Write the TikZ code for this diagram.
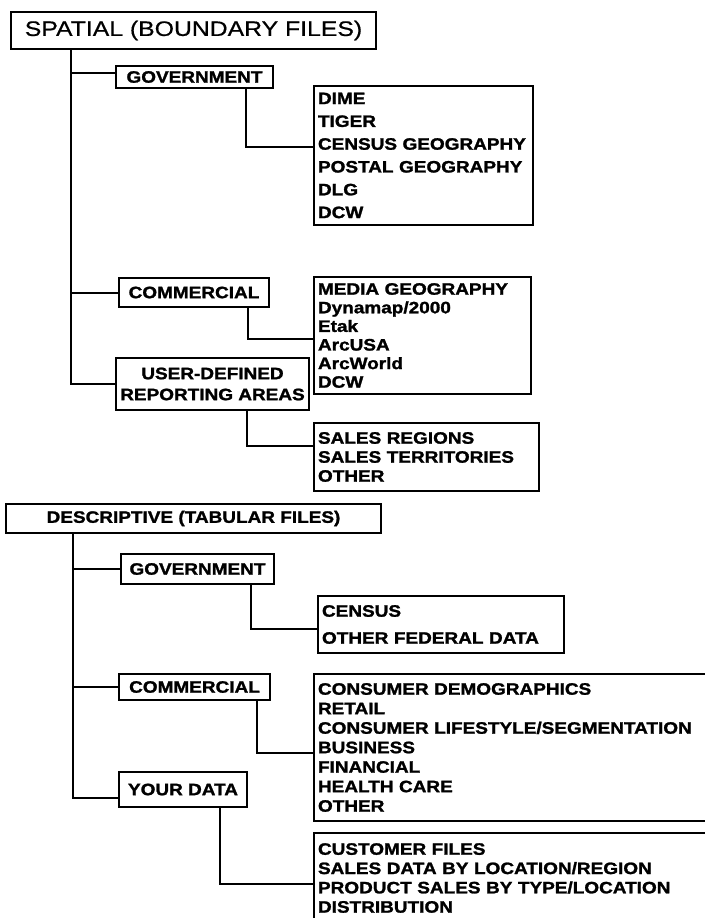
\documentclass[tikz,border=0pt]{standalone}
\usepackage{fontspec}
\usetikzlibrary{positioning}
\newfontfamily\chartfont{Liberation Sans}[FakeStretch=1.15, BoldFeatures={FakeBold=1.5}]
\newfontfamily\headfont{Liberation Sans}[FakeStretch=1.18, FakeBold=0.6]

\begin{document}
\begin{tikzpicture}[x=1pt, y=-1pt,
    labelbox/.style={draw, line width=2pt, anchor=north west, inner sep=0pt, align=center,
        font=\chartfont\bfseries\fontsize{16.5}{21}\selectfont},
    listbox/.style={draw, line width=2pt, anchor=north west, align=left, inner xsep=4pt, inner ysep=0pt,
        font=\chartfont\bfseries\fontsize{16.5}{#1}\selectfont},
    link/.style={line width=2pt}]
        \useasboundingbox (0,0) rectangle (704,918);

        % Headings
        \node[labelbox, font=\headfont\fontsize{21}{25}\selectfont, minimum width=365pt, minimum height=37pt]
            (spatial) at (10,11) {SPATIAL (BOUNDARY FILES)};
        \node[labelbox, minimum width=375pt, minimum height=29pt] (desc) at (5,503) {DESCRIPTIVE (TABULAR FILES)};

        % Source boxes
        \foreach \name/\x/\y/\w/\h/\text in {gov1/115/65/157/22/GOVERNMENT, com1/118/277/150/29/COMMERCIAL,
                user/115/357/193/52/USER-DEFINED\\REPORTING AREAS, gov2/120/553/153/30/GOVERNMENT,
                com2/118/673/151/26/COMMERCIAL, your/118/771/128/35/YOUR DATA} {
        \node[labelbox, minimum width=\w pt, minimum height=\h pt] (\name) at (\x,\y) {\text};
        }

        % File lists
        \node[listbox=22.8, text width=211pt, minimum height=139pt] (dime) at (313,85)
            {DIME\\TIGER\\CENSUS GEOGRAPHY\\POSTAL GEOGRAPHY\\DLG\\DCW};
        \node[listbox=18.6, text width=209pt, minimum height=117pt] (media) at (313,276)
            {MEDIA GEOGRAPHY\\Dynamap/2000\\Etak\\ArcUSA\\ArcWorld\\DCW};
        \node[listbox=19, text width=217pt, minimum height=68pt] (sales) at (313,422)
            {SALES REGIONS\\SALES TERRITORIES\\OTHER};
        \node[listbox=27, text width=238pt, minimum height=57pt] (census) at (317,595)
            {CENSUS\\OTHER FEDERAL DATA};
        \node[listbox=19.5, text width=395pt, minimum height=147pt] (consumer) at (313,673)
            {CONSUMER DEMOGRAPHICS\\RETAIL\\CONSUMER LIFESTYLE/SEGMENTATION\\BUSINESS\\FINANCIAL\\HEALTH CARE\\OTHER};
        \node[listbox=19.3, text width=395pt, minimum height=90pt] (customer) at (313,832)
            {CUSTOMER FILES\\SALES DATA BY LOCATION/REGION\\PRODUCT SALES BY TYPE/LOCATION\\DISTRIBUTION};

        % Trunks and branches
        \coordinate (trunk1) at (71,0);
        \coordinate (trunk2) at (73,0);
        \coordinate (gov1in) at ([yshift=4pt]gov1.west);
        \draw[link] (spatial.south -| trunk1) |- (user.west);
        \draw[link] (trunk1 |- gov1in) -- (gov1in);
        \draw[link] (trunk1 |- com1.west) -- (com1.west);
        \draw[link] (desc.south -| trunk2) |- ([yshift=-8.5pt]your.west);
        \draw[link] (trunk2 |- gov2.west) -- (gov2.west);
        \draw[link] (trunk2 |- com2.west) -- (com2.west);

        % Elbows to the lists
        \draw[link] (gov1.south -| 246,0) |- ([yshift=8.5pt]dime.west);
        \draw[link] (com1.south -| 248,0) |- ([yshift=-3.5pt]media.west);
        \draw[link] (user.south -| 247,0) |- ([yshift=11pt]sales.west);
        \draw[link] (gov2.south -| 251,0) |- ([yshift=-4.5pt]census.west);
        \draw[link] (com2.south -| 257,0) |- ([yshift=-5.5pt]consumer.west);
        \draw[link] (your.south -| 220,0) |- ([yshift=-6pt]customer.west);
    \end{tikzpicture}
\end{document}
